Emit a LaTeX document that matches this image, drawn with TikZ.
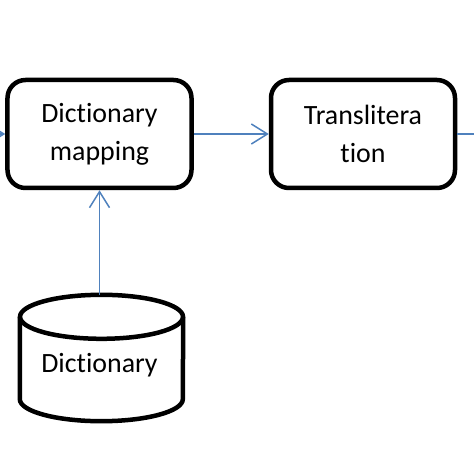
\documentclass[tikz,border=0pt]{standalone}
\usepackage{fontspec}
\setmainfont{Carlito}[Ligatures=NoCommon]
\usetikzlibrary{arrows.meta,calc}
\definecolor{linkblue}{RGB}{79,129,189}
\tikzset{
 procbox/.style = {draw=black, line width=4.5bp, rounded corners=18bp,
  minimum width=184bp, minimum height=108bp, inner sep=0pt,
  align=center, font=\fontsize{28}{38}\selectfont},
 link/.style = {draw=linkblue, line width=1.5bp,
  -{Straight Barb[length=16bp,width=20bp]}},
 dbtext/.style = {minimum width=163bp, minimum height=126bp, inner sep=0pt,
  font=\fontsize{28}{38}\selectfont}
}
% cylinder drawn round a named node
\newcommand{\dbCylinder}[2]{
    \draw[line width=4.5bp] ($(#1.north west)+(0,-#2)$) -- ($(#1.south west)+(0,#2)$)
        arc[start angle=180, end angle=360, x radius=81.5bp, y radius=#2]
        -- ($(#1.north east)+(0,-#2)$);
    \draw[line width=4.5bp] ($(#1.north)+(0,-#2)$) ellipse[x radius=81.5bp, y radius=#2];
}

\begin{document}
\begin{tikzpicture}[x=1bp, y=-1bp]
    \useasboundingbox (0,0) rectangle (474,474);
    \node[procbox] (map) at (99.5,134) {Dictionary\\mapping};
    \node[procbox] (translit) at (363,134) {Translitera\\tion};
    \node[dbtext] (dict) at (101.5,358) {};
    \dbCylinder{dict}{22bp}
    \node at ($(dict.center)+(-2,7)$) [font=\fontsize{28}{38}\selectfont] (dictlabel) {Dictionary};
    \coordinate (inEnd) at (-30,134);
    \coordinate (outEnd) at (510,134);
    \draw[link] (inEnd) -- (map.west);
    \draw[link] (map.east) -- (translit.west);
    \draw[link] (translit.east) -- (outEnd);
    \draw[link] (dict.north -| map.south) -- (map.south);
\end{tikzpicture}
\end{document}
